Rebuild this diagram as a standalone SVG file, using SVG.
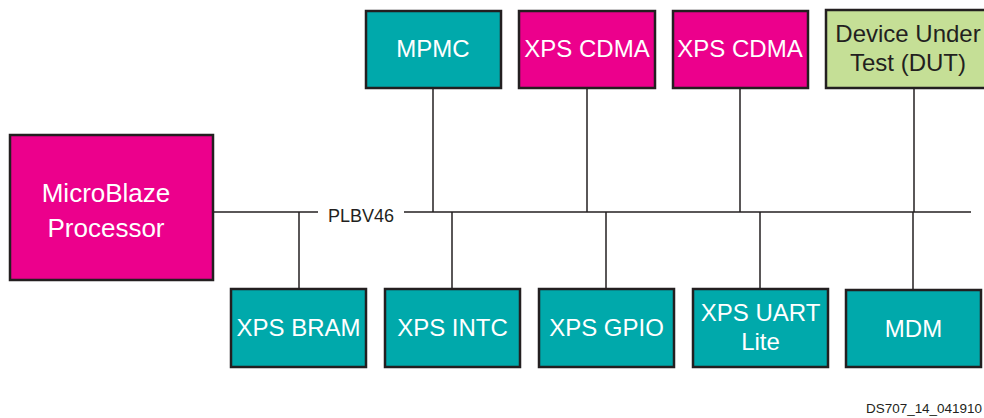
<svg xmlns="http://www.w3.org/2000/svg" width="984" height="418" viewBox="0 0 984 418">
<style>
.box{stroke:#231f20;stroke-width:2.5}
.teal{fill:#00a9ab}
.mag{fill:#ec008c}
.grn{fill:#c5df96}
.lbl{font-family:"Liberation Sans",Arial,sans-serif;font-size:24px;text-anchor:middle}
.w{fill:#ffffff}
.k{fill:#231f20}
.conn line{stroke:#231f20;stroke-width:1.5}
</style>
<rect width="984" height="418" fill="#ffffff"/>
<g class="conn" id="connectors">
<line x1="213" y1="212" x2="318" y2="212"/>
<line x1="404" y1="212" x2="971" y2="212"/>
<line x1="433" y1="88" x2="433" y2="212"/>
<line x1="587" y1="88" x2="587" y2="212"/>
<line x1="740" y1="88" x2="740" y2="212"/>
<line x1="914" y1="88" x2="914" y2="212"/>
<line x1="299" y1="212" x2="299" y2="289"/>
<line x1="452" y1="212" x2="452" y2="289"/>
<line x1="606" y1="212" x2="606" y2="289"/>
<line x1="760" y1="212" x2="760" y2="289"/>
<line x1="913" y1="212" x2="913" y2="290"/>
</g>
<text x="361" y="222" font-family="Liberation Sans,Arial,sans-serif" font-size="18" text-anchor="middle" class="k">PLBV46</text>
<g id="microblaze">
<rect class="box mag" x="10" y="135" width="203" height="145"/>
<text class="lbl w" x="106" y="202" style="font-size:26px">MicroBlaze</text>
<text class="lbl w" x="106" y="237" style="font-size:26px">Processor</text>
</g>
<g id="mpmc">
<rect class="box teal" x="366" y="11" width="135" height="77"/>
<text class="lbl w" x="433" y="57">MPMC</text>
</g>
<g id="cdma1">
<rect class="box mag" x="519" y="11" width="136" height="77"/>
<text class="lbl w" x="587" y="57">XPS CDMA</text>
</g>
<g id="cdma2">
<rect class="box mag" x="673" y="11" width="135" height="77"/>
<text class="lbl w" x="740" y="57">XPS CDMA</text>
</g>
<g id="dut">
<rect class="box grn" x="826" y="10" width="166" height="78"/>
<text class="lbl k" x="908" y="42">Device Under</text>
<text class="lbl k" x="908" y="71">Test (DUT)</text>
</g>
<g id="bram">
<rect class="box teal" x="231" y="289" width="135" height="78"/>
<text class="lbl w" x="298.5" y="336">XPS BRAM</text>
</g>
<g id="intc">
<rect class="box teal" x="385" y="289" width="135" height="78"/>
<text class="lbl w" x="452.5" y="336">XPS INTC</text>
</g>
<g id="gpio">
<rect class="box teal" x="539" y="289" width="135" height="78"/>
<text class="lbl w" x="606.5" y="336">XPS GPIO</text>
</g>
<g id="uart">
<rect class="box teal" x="693" y="289" width="135" height="78"/>
<text class="lbl w" x="760.5" y="321">XPS UART</text>
<text class="lbl w" x="760.5" y="350">Lite</text>
</g>
<g id="mdm">
<rect class="box teal" x="846" y="290" width="135" height="77"/>
<text class="lbl w" x="913.5" y="337">MDM</text>
</g>
<text x="982" y="413" font-family="Liberation Sans,Arial,sans-serif" font-size="12" text-anchor="end" textLength="116" lengthAdjust="spacingAndGlyphs" class="k">DS707_14_041910</text>
</svg>
